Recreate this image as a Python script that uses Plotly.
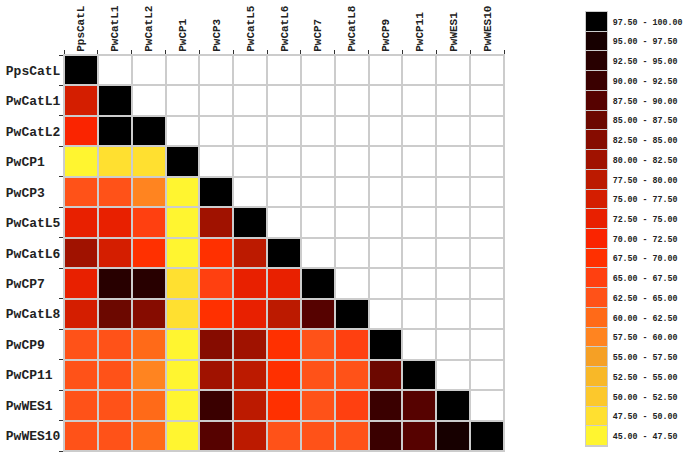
import plotly.graph_objects as go

labels = ["PpsCatL", "PwCatL1", "PwCatL2", "PwCP1", "PwCP3", "PwCatL5", "PwCatL6",
          "PwCP7", "PwCatL8", "PwCP9", "PwCP11", "PwWES1", "PwWES10"]

# lower-triangular similarity values (row i, columns 0..i)
row_PpsCatL = [99]
row_PwCatL1 = [76, 99]
row_PwCatL2 = [71, 98, 99]
row_PwCP1 = [46, 49, 49, 99]
row_PwCP3 = [64, 64, 59, 46, 99]
row_PwCatL5 = [74, 74, 67, 46, 80, 99]
row_PwCatL6 = [80, 75, 69, 46, 68, 78, 99]
row_PwCP7 = [74, 94, 94, 48, 66, 74, 74, 99]
row_PwCatL8 = [75, 87, 84, 48, 69, 74, 78, 89, 99]
row_PwCP9 = [64, 64, 60, 46, 84, 81, 69, 64, 67, 99]
row_PwCP11 = [64, 64, 59, 46, 81, 79, 69, 64, 64, 87, 99]
row_PwWES1 = [64, 64, 61, 46, 90, 79, 69, 64, 67, 92, 89, 99]
row_PwWES10 = [64, 64, 61, 46, 88, 79, 64, 64, 64, 92, 89, 96, 99]

rows = [row_PpsCatL, row_PwCatL1, row_PwCatL2, row_PwCP1, row_PwCP3, row_PwCatL5,
        row_PwCatL6, row_PwCP7, row_PwCatL8, row_PwCP9, row_PwCP11, row_PwWES1, row_PwWES10]

bin_edges = [45 + 2.5 * i for i in range(23)]
bin_labels = ["%.2f - %.2f" % (bin_edges[i], bin_edges[i + 1]) for i in range(22)]
bin_colors = ["#fff530", "#ffe030", "#fcc82c", "#f8b828", "#f5a025", "#ff8420",
              "#ff6a18", "#ff5218", "#ff4010", "#ff3000", "#fa2400", "#e82000",
              "#d41e00", "#bc1a00", "#a01200", "#860c00", "#6c0800", "#560200",
              "#3a0000", "#280000", "#170000", "#000000"]

n = len(labels)
z = [[(rows[i][j] if j <= i else None) for j in range(n)] for i in range(n)]
zwhite = [[(1 if j > i else None) for j in range(n)] for i in range(n)]

cs = []
for i, c in enumerate(bin_colors):
    cs.append([i / 22, c])
    cs.append([(i + 1) / 22, c])

maxlen = max(len(s) for s in labels)
left_text = [s + "\u00a0" * (maxlen - len(s)) for s in labels]

fig = go.Figure()
fig.add_trace(go.Heatmap(z=zwhite, x=labels, y=labels, colorscale=[[0, "white"], [1, "white"]],
                         showscale=False, xgap=2, ygap=2, hoverinfo="skip",
                         xaxis="x", yaxis="y"))
fig.add_trace(go.Heatmap(z=z, x=labels, y=labels, colorscale=cs, zmin=45, zmax=100,
                         showscale=False, xgap=2, ygap=2, xaxis="x", yaxis="y"))

centers = [(bin_edges[i] + bin_edges[i + 1]) / 2 for i in range(22)]
fig.add_trace(go.Heatmap(z=[[c] for c in centers], x=[0], y=bin_labels, colorscale=cs,
                         zmin=45, zmax=100, showscale=False, ygap=1,
                         xaxis="x2", yaxis="y2"))

tickfont = dict(family="Liberation Mono", size=13, color="#222", weight="bold")
fig.update_layout(
    width=685, height=453,
    margin=dict(l=0, r=0, t=0, b=0, autoexpand=False),
    paper_bgcolor="white", plot_bgcolor="#cccccc",
    xaxis=dict(domain=[64 / 685, 504 / 685], side="top", tickangle=-90,
               tickson="boundaries", ticks="outside", ticklen=4, tickcolor="#333",
               tickfont=dict(family="Liberation Mono", size=11, color="#222", weight="bold"),
               showgrid=False, zeroline=False, showline=True, linecolor="#cccccc",
               mirror=True, anchor="y", fixedrange=True, categoryorder="array",
               categoryarray=labels, automargin=False),
    yaxis=dict(domain=[2 / 453, 398 / 453], autorange="reversed",
               tickson="boundaries", ticks="outside", ticklen=4, tickcolor="#333",
               tickvals=labels, ticktext=left_text,
               tickfont=tickfont, showgrid=False, zeroline=False, showline=True,
               linecolor="#cccccc", mirror=True, anchor="x", categoryorder="array",
               categoryarray=labels, automargin=False),
    xaxis2=dict(domain=[586 / 685, 607 / 685], showticklabels=False, ticks="",
                showgrid=False, zeroline=False, showline=True, linecolor="#cccccc",
                mirror=True, anchor="y2", automargin=False),
    yaxis2=dict(domain=[7 / 453, 441 / 453], side="right", ticks="outside",
                ticklen=3, tickcolor="rgba(0,0,0,0)", showgrid=False, zeroline=False,
                showline=True, linecolor="#cccccc", mirror=True, anchor="x2",
                tickfont=dict(family="Liberation Mono", size=8.3, color="#222", weight="bold"),
                categoryorder="array", categoryarray=bin_labels, automargin=False),
)

fig.write_html("out.html", config={"displayModeBar": False},
               post_script="document.body.style.margin='0';document.body.style.overflow='hidden';")
